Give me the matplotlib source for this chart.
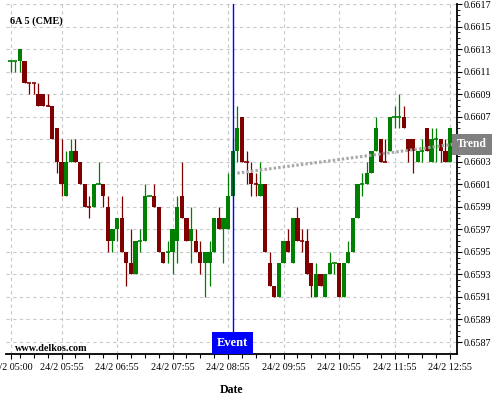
import numpy as np
import pandas as pd
import matplotlib
matplotlib.use("Agg")
import matplotlib.pyplot as plt
from matplotlib.patches import Rectangle
from matplotlib.ticker import FixedLocator
from matplotlib.transforms import blended_transform_factory

plt.rcParams['font.family'] = ['Liberation Serif', 'DejaVu Serif']

symbol = "6A 5 (CME)"
start_time = "2024-02-24 05:00"
bar_minutes = 5
event_time = "2024-02-24 09:00"

# prices quoted in 1/10000
opens = np.array([
    6612, 6612, 6612, 6612, 6610, 6610, 6609, 6609, 6608, 6608,
    6606, 6603, 6600, 6603, 6604, 6603, 6601, 6599, 6599, 6601,
    6601, 6599, 6596, 6597, 6598, 6595, 6594, 6593, 6596, 6596,
    6600, 6600, 6599, 6595, 6595, 6595, 6596, 6600, 6598, 6596,
    6596, 6595, 6594, 6594, 6595, 6598, 6597, 6597, 6600, 6604,
    6607, 6603, 6602, 6601, 6600, 6601, 6594, 6592, 6591, 6594,
    6596, 6594, 6598, 6596, 6596, 6594, 6591, 6593, 6591, 6593,
    6594, 6594, 6591, 6594, 6595, 6598, 6601, 6601, 6602, 6604,
    6605, 6603, 6604, 6607, 6607, 6607, 6605, 6605, 6603, 6604,
    6606, 6603, 6605, 6605, 6604, 6603]) / 1e4
highs = np.array([
    6612, 6612, 6613, 6612, 6610, 6610, 6610, 6609, 6609, 6608,
    6606, 6605, 6604, 6605, 6605, 6603, 6601, 6600, 6601, 6603,
    6601, 6600, 6597, 6598, 6600, 6595, 6597, 6596, 6597, 6601,
    6600, 6601, 6599, 6595, 6596, 6597, 6600, 6603, 6598, 6599,
    6597, 6596, 6595, 6596, 6598, 6599, 6598, 6602, 6605, 6608,
    6607, 6604, 6603, 6602, 6603, 6601, 6595, 6592, 6594, 6596,
    6597, 6598, 6599, 6597, 6597, 6594, 6594, 6593, 6593, 6595,
    6594, 6594, 6594, 6596, 6598, 6601, 6602, 6603, 6604, 6607,
    6605, 6605, 6607, 6608, 6609, 6608, 6605, 6605, 6604, 6605,
    6606, 6606, 6606, 6605, 6605, 6606]) / 1e4
lows = np.array([
    6611, 6611, 6611, 6610, 6609, 6609, 6608, 6608, 6608, 6605,
    6602, 6600, 6600, 6603, 6603, 6601, 6599, 6598, 6599, 6601,
    6599, 6595, 6595, 6596, 6595, 6592, 6593, 6593, 6595, 6596,
    6600, 6599, 6595, 6594, 6594, 6593, 6594, 6598, 6596, 6594,
    6595, 6593, 6591, 6592, 6595, 6597, 6594, 6597, 6600, 6603,
    6603, 6601, 6600, 6600, 6600, 6595, 6592, 6591, 6591, 6594,
    6595, 6594, 6596, 6595, 6593, 6591, 6591, 6592, 6591, 6593,
    6593, 6591, 6591, 6594, 6595, 6598, 6600, 6601, 6602, 6604,
    6603, 6603, 6604, 6606, 6606, 6606, 6603, 6602, 6603, 6603,
    6604, 6603, 6603, 6603, 6603, 6603]) / 1e4
closes = np.array([
    6612, 6612, 6613, 6610, 6610, 6610, 6608, 6608, 6608, 6605,
    6603, 6601, 6603, 6604, 6603, 6601, 6599, 6599, 6601, 6601,
    6600, 6596, 6597, 6598, 6595, 6594, 6593, 6596, 6596, 6600,
    6600, 6599, 6595, 6594, 6595, 6597, 6599, 6598, 6596, 6597,
    6595, 6594, 6595, 6595, 6598, 6597, 6598, 6600, 6604, 6606,
    6603, 6603, 6601, 6601, 6601, 6595, 6592, 6591, 6594, 6596,
    6595, 6598, 6596, 6596, 6593, 6592, 6593, 6592, 6593, 6594,
    6594, 6591, 6594, 6595, 6598, 6601, 6601, 6602, 6604, 6606,
    6603, 6603, 6607, 6607, 6607, 6606, 6604, 6604, 6604, 6604,
    6604, 6605, 6605, 6604, 6603, 6606]) / 1e4
# candle colour (G = up, R = down), also used for dojis
bar_dir = ("GGGRRRRRRR" "RRGGRRRRGG" "RRGGRRRGGG" "GRRRGGGRRG" "RRGGGRGGGG"
           "RRRRGRRRGG" "RGRRRRGRGG" "GRGGGGGGGG" "RRGGGRRRGG" "RGGRRG")

trend_bars = [49, 95.5]
trend_values = [0.66020, 0.660455]

price_ticks = np.arange(6587, 6618, 2) / 1e4

times = pd.date_range(start_time, periods=len(opens), freq=f"{bar_minutes}min")
idx = np.arange(len(opens))
event_bar = (pd.Timestamp(event_time) - times[0]) / pd.Timedelta(minutes=bar_minutes)

up_col = '#008000'
dn_col = '#800000'
colors = [up_col if d == 'G' else dn_col for d in bar_dir]

fig = plt.figure(figsize=(5, 4), dpi=100)
ax = fig.add_axes([0.012, 0.114, 0.902, 0.876])

ax.set_xlim(-1.0, 96.5)
ax.set_ylim(0.65859, 0.661702)

ax.grid(True, color='#c8c8c8', linestyle=(0, (3, 3)), linewidth=0.8)
ax.set_axisbelow(True)

# wicks
ax.vlines(idx, lows, highs, colors=colors, linewidth=0.9, zorder=2)
# bodies
w = 0.92
body_h = np.abs(closes - opens)
body_b = np.minimum(opens, closes)
ax.bar(idx, body_h, w, bottom=body_b, color=colors, linewidth=0, zorder=3)
doji = body_h < 1e-7
ax.hlines(closes[doji], idx[doji] - w / 2, idx[doji] + w / 2,
          colors=[c for c, d in zip(colors, doji) if d], linewidth=1.2, zorder=3)

# trend line
ax.plot(trend_bars, trend_values, color='#a8a8a8', linewidth=2.2,
        linestyle=(0, (0.8, 0.7)), zorder=4)
tr = blended_transform_factory(ax.transAxes, ax.transData)
ax.text(1.0, trend_values[-1], "Trend", transform=tr, ha='left', va='center',
        color='white', fontsize=8.4, fontweight='bold', clip_on=False, zorder=10,
        bbox=dict(boxstyle='square,pad=0.42', fc='#808080', ec='none'))

# event marker
box_h = 22 / 350.3
ax.axvline(event_bar, ymin=box_h, ymax=1, color='#0000ff', linewidth=1.0, zorder=5)
te = blended_transform_factory(ax.transData, ax.transAxes)
ax.add_patch(Rectangle((event_bar - 4.5, 0), 9.0, box_h, transform=te,
                       facecolor='#0000ff', edgecolor='none', zorder=6))
ax.text(event_bar, box_h / 2, "Event", transform=te, ha='center', va='center',
        color='white', fontsize=9, fontweight='bold', zorder=7)

# axes styling
for s in ['top', 'left']:
    ax.spines[s].set_visible(False)
ax.spines['bottom'].set_linewidth(1.3)
ax.spines['right'].set_linewidth(1.3)

major_x = [0] + [i for i, t in enumerate(times) if t.minute == 55]
ax.xaxis.set_major_locator(FixedLocator(major_x))
ax.set_xticklabels([f"{times[i].day}/{times[i].month} {times[i]:%H:%M}" for i in major_x])
ax.xaxis.set_minor_locator(FixedLocator([i for i in idx if i % 3 == 2 and i not in major_x]))
ax.tick_params(axis='x', which='major', length=3.5, width=0.8, labelsize=7.3, pad=3)
ax.tick_params(axis='x', which='minor', length=3, width=0.8)

ax.yaxis.tick_right()
ax.yaxis.set_major_locator(FixedLocator(price_ticks))
ax.yaxis.set_minor_locator(FixedLocator(np.arange(6587, 6617.1, 0.5) / 1e4))
# the price label sitting under the Trend tag is covered in the original
ax.set_yticklabels(["" if abs(p - trend_values[-1]) < 0.00012 else f"{p:.4f}"
                    for p in price_ticks])
ax.tick_params(axis='y', which='major', length=3.5, width=0.8, labelsize=7.3, pad=1)
ax.tick_params(axis='y', which='minor', length=2, width=0.6)

ax.text(0.009, 0.952, symbol, transform=ax.transAxes, ha='left', va='center',
        fontsize=7.3, fontweight='bold')
ax.text(0.02, 0.016, "www.delkos.com", transform=ax.transAxes, ha='left', va='center',
        fontsize=7.3, fontweight='bold')
fig.text(0.462, 0.025, "Date", ha='center', va='center', fontsize=8.5, fontweight='bold')

fig.savefig("out.png", dpi=100)
